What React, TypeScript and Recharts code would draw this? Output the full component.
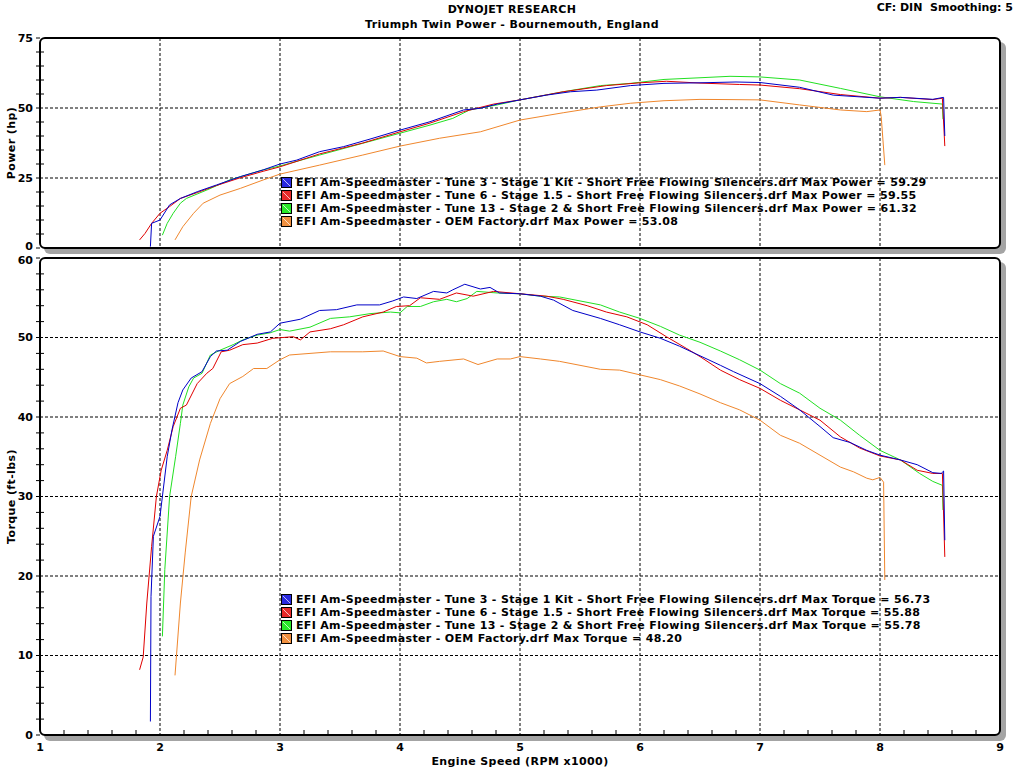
import React from 'react';
import { LineChart, Line, XAxis, YAxis, CartesianGrid } from 'recharts';

const FONT = '"DejaVu Sans", Verdana, sans-serif';

const seriesNames = [
  'EFI Am-Speedmaster - Tune 3 - Stage 1 Kit - Short Free Flowing Silencers.drf',
  'EFI Am-Speedmaster - Tune 6 - Stage 1.5 - Short Free Flowing Silencers.drf',
  'EFI Am-Speedmaster - Tune 13 - Stage 2 & Short Free Flowing Silencers.drf',
  'EFI Am-Speedmaster - OEM Factory.drf',
];
const seriesColors = ['#0000c8', '#e00000', '#22e022', '#f0872d'];
const markerColors = ['#2a2ae0', '#e82a2a', '#2ae82a', '#f09040'];
const maxPower = ['59.29', '59.55', '61.32', '53.08'];
const maxTorque = ['56.73', '55.88', '55.78', '48.20'];

const xMajorTicks = [1, 2, 3, 4, 5, 6, 7, 8, 9];
const xGridValues = [2, 3, 4, 5, 6, 7, 8];
const xMinorTicks = [1, 1.2, 1.4, 1.6, 1.8, 2, 2.2, 2.4, 2.6, 2.8, 3, 3.2, 3.4, 3.6, 3.8, 4, 4.2, 4.4, 4.6, 4.8, 5, 5.2, 5.4, 5.6, 5.8, 6, 6.2, 6.4, 6.6, 6.8, 7, 7.2, 7.4, 7.6, 7.8, 8, 8.2, 8.4, 8.6, 8.8, 9];
const powerTicks = [0, 5, 10, 15, 20, 25, 30, 35, 40, 45, 50, 55, 60, 65, 70, 75];
const powerMajor = [0, 25, 50, 75];
const powerGrid = [25, 50];
const torqueTicks = [0, 2, 4, 6, 8, 10, 12, 14, 16, 18, 20, 22, 24, 26, 28, 30, 32, 34, 36, 38, 40, 42, 44, 46, 48, 50, 52, 54, 56, 58, 60];
const torqueMajor = [0, 10, 20, 30, 40, 50, 60];
const torqueGrid = [10, 20, 30, 40, 50];

// ---- Torque (ft-lbs) ----
const tune3TorqueRpm = [1.92, 1.925, 1.945, 2.0, 2.06, 2.1, 2.15, 2.19, 2.26, 2.35, 2.42, 2.47, 2.56, 2.67, 2.81, 2.92, 3.0, 3.17, 3.33, 3.47, 3.64, 3.83, 3.94, 4.03, 4.14, 4.28, 4.39, 4.44, 4.54, 4.67, 4.75, 4.83, 5.0, 5.17, 5.28, 5.44, 5.67, 5.83, 6.0, 6.17, 6.33, 6.5, 6.67, 6.78, 7.0, 7.17, 7.33, 7.5, 7.61, 7.75, 7.89, 8.0, 8.17, 8.31, 8.44, 8.51, 8.53, 8.54];
const tune3Torque = [1.7, 17.4, 25, 27.5, 35, 38.4, 41.8, 43.4, 44.9, 45.7, 47.6, 48.3, 48.4, 49.5, 50.4, 50.7, 51.8, 52.3, 53.4, 53.5, 54.1, 54.1, 54.6, 55.1, 54.9, 55.8, 55.6, 56.0, 56.7, 56.1, 56.3, 55.6, 55.5, 55.2, 54.7, 53.4, 52.4, 51.6, 50.7, 49.9, 48.9, 47.7, 46.5, 45.7, 44.2, 42.6, 40.9, 38.8, 37.4, 36.8, 35.8, 35.2, 34.6, 34.0, 33.0, 32.9, 33.2, 24.5];

const tune6TorqueRpm = [1.83, 1.86, 1.89, 1.93, 1.97, 2.01, 2.06, 2.11, 2.17, 2.22, 2.31, 2.39, 2.44, 2.51, 2.58, 2.69, 2.81, 2.94, 3.11, 3.17, 3.25, 3.42, 3.53, 3.69, 3.86, 3.97, 4.08, 4.17, 4.33, 4.47, 4.61, 4.78, 5.0, 5.22, 5.36, 5.56, 5.72, 5.89, 6.06, 6.22, 6.39, 6.5, 6.67, 6.83, 7.0, 7.17, 7.33, 7.5, 7.67, 7.83, 8.0, 8.17, 8.31, 8.44, 8.52, 8.54];
const tune6Torque = [8.2, 9.8, 16.6, 23.7, 30.0, 33.3, 35.8, 38.8, 41.1, 41.5, 44.2, 45.5, 46.1, 48.2, 48.4, 49.1, 49.3, 49.9, 50.1, 49.7, 50.7, 51.1, 51.6, 52.6, 53.2, 53.9, 54.0, 55.0, 54.8, 55.6, 55.2, 55.8, 55.5, 55.2, 54.8, 54.0, 53.2, 52.6, 51.6, 50.1, 48.6, 47.6, 45.9, 44.7, 43.6, 42.1, 40.9, 39.6, 37.5, 36.1, 35.1, 34.6, 33.3, 32.9, 32.9, 22.4];

const tune13TorqueRpm = [2.02, 2.04, 2.08, 2.13, 2.17, 2.19, 2.24, 2.28, 2.35, 2.42, 2.5, 2.61, 2.69, 2.81, 2.92, 3.0, 3.08, 3.25, 3.42, 3.58, 3.75, 3.92, 4.0, 4.06, 4.17, 4.28, 4.39, 4.47, 4.56, 4.64, 4.81, 5.0, 5.17, 5.33, 5.5, 5.67, 5.83, 6.0, 6.17, 6.33, 6.5, 6.67, 6.83, 7.0, 7.17, 7.33, 7.5, 7.67, 7.83, 8.0, 8.17, 8.33, 8.44, 8.52, 8.525];
const tune13Torque = [12.4, 20.8, 30.0, 35.0, 39.2, 41.5, 43.8, 44.9, 45.5, 47.8, 48.4, 49.1, 49.7, 50.3, 50.6, 51.0, 50.8, 51.3, 52.4, 52.6, 53.0, 53.2, 53.1, 53.9, 53.9, 54.5, 54.8, 54.5, 54.9, 55.8, 55.6, 55.5, 55.2, 55.1, 54.6, 54.1, 53.2, 52.4, 51.4, 50.3, 49.4, 48.3, 47.2, 45.9, 44.2, 43.0, 41.1, 39.6, 37.7, 35.8, 34.6, 32.9, 31.9, 31.4, 28.3];

const oemTorqueRpm = [2.125, 2.17, 2.21, 2.26, 2.33, 2.42, 2.5, 2.58, 2.69, 2.78, 2.89, 3.0, 3.08, 3.25, 3.42, 3.69, 3.86, 4.0, 4.14, 4.22, 4.33, 4.53, 4.65, 4.81, 4.92, 5.0, 5.17, 5.33, 5.5, 5.67, 5.83, 6.0, 6.17, 6.33, 6.5, 6.67, 6.83, 7.0, 7.17, 7.33, 7.5, 7.67, 7.78, 7.89, 7.94, 8.0, 8.03, 8.04];
const oemTorque = [7.5, 16.6, 22.9, 30.0, 34.6, 39.2, 42.3, 44.2, 45.1, 46.1, 46.1, 47.2, 47.8, 48.0, 48.2, 48.2, 48.3, 47.6, 47.4, 46.8, 47.0, 47.3, 46.6, 47.3, 47.3, 47.6, 47.3, 47.0, 46.5, 46.0, 45.9, 45.3, 44.7, 43.9, 42.9, 41.8, 40.9, 39.6, 37.7, 36.7, 35.2, 33.7, 33.1, 32.3, 32.1, 32.4, 31.8, 19.5];

// ---- Power (hp) ----
const tune3PowerRpm = [1.92, 1.93, 2.0, 2.08, 2.17, 2.31, 2.47, 2.67, 2.86, 3.0, 3.14, 3.33, 3.53, 3.75, 4.0, 4.25, 4.53, 4.67, 4.81, 5.0, 5.22, 5.42, 5.64, 5.92, 6.2, 6.5, 6.8, 7.0, 7.33, 7.61, 8.0, 8.17, 8.44, 8.53, 8.54];
const tune3Power = [0.5, 8.8, 10.0, 15.4, 17.7, 20.1, 22.5, 25.5, 27.9, 30.0, 31.4, 34.4, 36.2, 38.9, 42.1, 45.1, 49.3, 49.9, 51.4, 52.9, 54.6, 55.8, 56.4, 58.0, 58.8, 59.0, 59.29, 59.1, 57.4, 54.6, 53.5, 53.8, 53.1, 53.8, 40.0];

const tune6PowerRpm = [1.83, 1.875, 1.93, 2.0, 2.08, 2.17, 2.31, 2.47, 2.67, 2.86, 3.0, 3.33, 3.69, 4.0, 4.25, 4.53, 4.78, 5.0, 5.36, 5.72, 6.0, 6.22, 6.5, 6.83, 7.0, 7.33, 7.67, 8.0, 8.17, 8.44, 8.52, 8.54];
const tune6Power = [2.9, 5.2, 8.8, 12.4, 14.8, 17.7, 19.8, 22.3, 25.1, 27.4, 29.0, 33.6, 37.5, 41.5, 44.6, 48.7, 51.4, 52.9, 55.8, 58.0, 59.0, 59.55, 58.9, 58.4, 58.2, 56.9, 54.8, 53.5, 53.8, 53.0, 53.5, 36.4];

const tune13PowerRpm = [2.02, 2.06, 2.11, 2.17, 2.22, 2.39, 2.58, 2.86, 3.0, 3.33, 3.69, 4.0, 4.25, 4.44, 4.58, 4.81, 5.0, 5.36, 5.67, 5.92, 6.2, 6.5, 6.75, 7.0, 7.33, 7.67, 8.0, 8.28, 8.52, 8.525];
const tune13Power = [4.6, 8.8, 12.4, 16.0, 17.7, 20.7, 24.3, 27.9, 29.3, 33.2, 37.4, 41.0, 43.9, 46.3, 49.3, 51.1, 52.9, 55.8, 58.0, 58.8, 60.2, 60.8, 61.32, 61.1, 60.0, 57.0, 54.0, 52.3, 51.4, 46.0];

const oemPowerRpm = [2.125, 2.19, 2.28, 2.36, 2.5, 2.67, 2.86, 3.0, 3.33, 3.69, 4.0, 4.33, 4.67, 5.0, 5.36, 5.67, 5.92, 6.2, 6.5, 6.75, 7.0, 7.33, 7.67, 7.89, 8.0, 8.01, 8.04];
const oemPower = [2.9, 7.6, 12.4, 16.0, 18.9, 21.3, 24.3, 26.4, 29.6, 33.2, 36.4, 39.2, 41.5, 45.7, 48.3, 50.4, 51.7, 52.6, 53.08, 53.0, 52.9, 51.1, 49.3, 48.7, 49.3, 47.0, 29.6];

const toPoints = (rpm: number[], vals: number[]) => rpm.map((r, i) => ({ rpm: r, v: vals[i] }));

const torqueSeries = [
  toPoints(tune3TorqueRpm, tune3Torque),
  toPoints(tune6TorqueRpm, tune6Torque),
  toPoints(tune13TorqueRpm, tune13Torque),
  toPoints(oemTorqueRpm, oemTorque),
];
const powerSeries = [
  toPoints(tune3PowerRpm, tune3Power),
  toPoints(tune6PowerRpm, tune6Power),
  toPoints(tune13PowerRpm, tune13Power),
  toPoints(oemPowerRpm, oemPower),
];
const drawOrder = [3, 2, 1, 0];

const textStyle = { fontFamily: FONT, fontWeight: 700, fontSize: 11, fill: '#000' } as const;
const labelStyle = { ...textStyle, letterSpacing: '0.4px' } as const;

// shift: nudges the extreme labels that sit at the seam between the two panels
const makeYTick = (majors: number[], shiftMin: number, shiftMax: number) => (props: any) => {
  const { x, y, payload } = props;
  const v = payload.value;
  const axisX = x + 6;
  const isMajor = majors.includes(v);
  const lo = Math.min(...majors);
  const hi = Math.max(...majors);
  const off = v === lo ? shiftMin : v === hi ? shiftMax : 0;
  return (
    <g>
      {isMajor ? (
        <>
          <line x1={axisX - 4} x2={axisX} y1={y} y2={y} stroke="#000" strokeWidth={1} />
          <text x={x - 1} y={y + off} dy="0.36em" textAnchor="end" style={textStyle}>{v}</text>
        </>
      ) : (
        <line x1={axisX - 4} x2={axisX + 4} y1={y} y2={y} stroke="#000" strokeWidth={1} />
      )}
    </g>
  );
};

const XTickBottom = (props: any) => {
  const { x, y, payload } = props;
  const v = payload.value;
  const axisY = y - 8;
  const isMajor = Number.isInteger(v);
  return (
    <g>
      {isMajor ? (
        <text x={x} y={y} dy="0.71em" textAnchor="middle" style={textStyle}>{v}</text>
      ) : (
        <line x1={x} x2={x} y1={axisY - 5} y2={axisY} stroke="#000" strokeWidth={1} />
      )}
    </g>
  );
};

const Frame = ({ top, height }: { top: number; height: number }) => (
  <div
    style={{
      position: 'absolute',
      left: 39,
      top: top - 1,
      width: 962,
      height: height + 2,
      border: '2px solid #000',
      borderRadius: 6,
      boxSizing: 'border-box',
      boxShadow: '5px 5px 0 #a4a4a4',
      background: '#fff',
    }}
  />
);

const Marker = ({ color }: { color: string }) => (
  <svg width={11} height={11} style={{ display: 'block', flex: '0 0 auto' }}>
    <rect x={0.5} y={0.5} width={10} height={10} fill={color} stroke="#000" strokeWidth={1} />
    <line x1={2} y1={2} x2={9} y2={9} stroke="#ffffff" strokeOpacity={0.7} strokeWidth={1} />
  </svg>
);

const LegendBlock = ({ top, label, values }: { top: number; label: string; values: string[] }) => (
  <div style={{ position: 'absolute', left: 281, top, zIndex: 3 }}>
    {seriesNames.map((n, i) => (
      <div key={n} style={{ display: 'flex', alignItems: 'center', height: 13, whiteSpace: 'pre' }}>
        <Marker color={markerColors[i]} />
        <span style={{ marginLeft: 4, fontFamily: FONT, fontWeight: 700, fontSize: 11, lineHeight: '13px', letterSpacing: '0.33px', color: '#000' }}>
          {`${n} ${label} = ${values[i]}`}
        </span>
      </div>
    ))}
  </div>
);

export default function App() {
  return (
    <div style={{ position: 'absolute', left: 0, top: 0, width: 1024, height: 768, background: '#fff', overflow: 'hidden', fontFamily: FONT }}>
      <div style={{ position: 'absolute', left: 0, top: 3, width: 1024, textAlign: 'center', fontWeight: 700, fontSize: 11, lineHeight: '13px', letterSpacing: '0.3px' }}>
        DYNOJET RESEARCH
      </div>
      <div style={{ position: 'absolute', left: 0, top: 18, width: 1024, textAlign: 'center', fontWeight: 700, fontSize: 11, lineHeight: '13px', letterSpacing: '0.35px' }}>
        Triumph Twin Power - Bournemouth, England
      </div>
      <div style={{ position: 'absolute', right: 11, top: 1, fontWeight: 700, fontSize: 11, lineHeight: '13px', whiteSpace: 'pre' }}>
        {'CF: DIN  Smoothing: 5'}
      </div>

      <Frame top={38} height={210} />
      <Frame top={258} height={477} />

      <div style={{ position: 'absolute', left: 0, top: 0, zIndex: 2 }}>
        <LineChart width={1024} height={260} margin={{ top: 38, right: 24, bottom: 12, left: 0 }}>
          <CartesianGrid stroke="#000" strokeDasharray="3 2" horizontalValues={powerGrid} verticalValues={xGridValues} />
          <XAxis type="number" dataKey="rpm" domain={[1, 9]} ticks={xMajorTicks} hide allowDataOverflow />
          <YAxis
            type="number"
            domain={[0, 75]}
            ticks={powerTicks}
            interval={0}
            width={40}
            tickSize={0}
            tickMargin={6}
            axisLine={false}
            tickLine={false}
            tick={makeYTick(powerMajor, -2, 0)}
            label={{ value: 'Power (hp)', position: 'center', angle: -90, dx: -9, style: labelStyle }}
          />
          {drawOrder.map((i) => (
            <Line
              key={i}
              data={powerSeries[i]}
              dataKey="v"
              type="linear"
              stroke={seriesColors[i]}
              strokeWidth={1}
              dot={false}
              activeDot={false}
              isAnimationActive={false}
            />
          ))}
        </LineChart>
      </div>

      <div style={{ position: 'absolute', left: 0, top: 250, zIndex: 2 }}>
        <LineChart width={1024} height={518} margin={{ top: 8, right: 24, bottom: 0, left: 0 }}>
          <CartesianGrid stroke="#000" strokeDasharray="3 2" horizontalValues={torqueGrid} verticalValues={xGridValues} />
          <XAxis
            type="number"
            dataKey="rpm"
            domain={[1, 9]}
            ticks={xMinorTicks}
            interval={0}
            height={33}
            tickSize={0}
            tickMargin={8}
            axisLine={false}
            tickLine={false}
            tick={XTickBottom}
            allowDataOverflow
            label={{ value: 'Engine Speed (RPM x1000)', position: 'insideBottom', offset: 3, style: labelStyle }}
          />
          <YAxis
            type="number"
            domain={[0, 60]}
            ticks={torqueTicks}
            interval={0}
            width={40}
            tickSize={0}
            tickMargin={6}
            axisLine={false}
            tickLine={false}
            tick={makeYTick(torqueMajor, 0, 2)}
            label={{ value: 'Torque (ft-lbs)', position: 'center', angle: -90, dx: -9, style: labelStyle }}
          />
          {drawOrder.map((i) => (
            <Line
              key={i}
              data={torqueSeries[i]}
              dataKey="v"
              type="linear"
              stroke={seriesColors[i]}
              strokeWidth={1}
              dot={false}
              activeDot={false}
              isAnimationActive={false}
            />
          ))}
        </LineChart>
      </div>

      <LegendBlock top={176} label="Max Power" values={maxPower} />
      <LegendBlock top={593} label="Max Torque" values={maxTorque} />
    </div>
  );
}
